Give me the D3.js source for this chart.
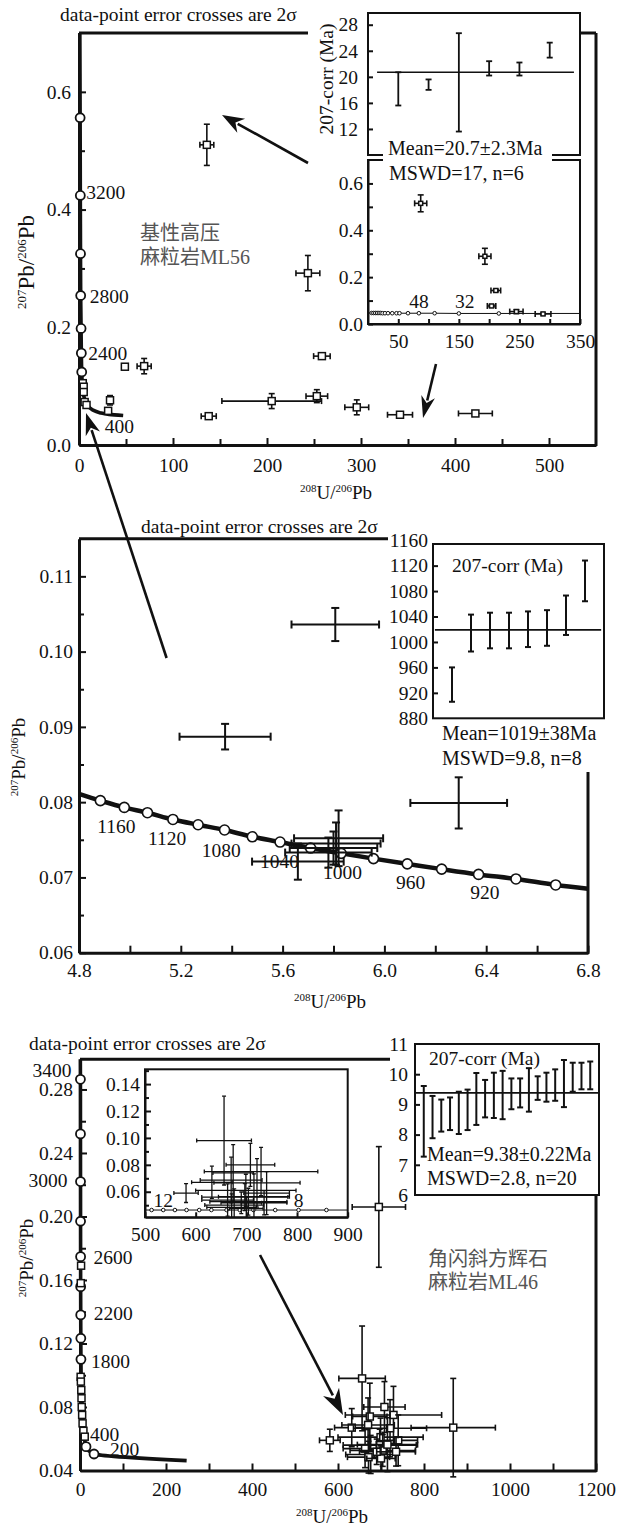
<!DOCTYPE html>
<html>
<head>
<meta charset="utf-8">
<script src="https://cdn.jsdelivr.net/npm/d3@7"></script>
<style>
  body { margin: 0; background: #fff; }
  svg { display: block; }
  svg text { font-family: "Liberation Serif", "Times New Roman", "Noto Sans CJK SC", serif; }
</style>
</head>
<body>
<script>
// ===== values =====

// upper panel, ML56 : [238U/206Pb, 207Pb/206Pb, err x, err y]
const ml56Spots = [
  [136, 0.510, 7.4, 0.035],
  [243.5, 0.292, 12.7, 0.030],
  [258.4, 0.151, 8.8, 0.005],
  [205, 0.0746, 53, 0.0127],
  [253, 0.083, 11.5, 0.011],
  [295.5, 0.064, 12.7, 0.0127],
  [138, 0.049, 8, 0.003],
  [341.5, 0.0514, 13.3, 0.003],
  [421.7, 0.0536, 18, 0.004],
  [48.8, 0.133, 3, 0.003],
  [69.3, 0.134, 7.5, 0.013],
  [33, 0.076, 3, 0.008],
  [31, 0.058, 2, 0.004]
];
const ml56AxisSpots = [[4, 0.105], [5, 0.099], [5, 0.090], [6, 0.073], [8, 0.068]];
const ml56Concordia = [[0.9, 0.70], [1.2, 0.556], [1.4, 0.424], [1.6, 0.325], [1.8, 0.254], [2.2, 0.198], [2.5, 0.156],
  [2.9, 0.124], [4, 0.095], [6, 0.078], [9, 0.068], [14, 0.060], [22, 0.055], [32, 0.052], [47, 0.050]];
const ml56Dots = [[1.2, 0.556], [1.4, 0.424], [1.6, 0.325], [1.8, 0.254], [2.2, 0.198], [2.5, 0.156], [2.9, 0.124]];
const ml56XTicks = [0, 100, 200, 300, 400, 500];
const ml56YTicks = [0, 0.2, 0.4, 0.6];

// ML56 weighted mean inset (207-corr, Ma)
const ml56Ages = [18.15, 18.8, 19.15, 21.3, 21.2, 24.1];
const ml56AgeErr = [2.55, 0.8, 7.55, 1.1, 1.0, 1.15];
const ml56Mean = 20.7;
const ml56AgeTicks = [12, 16, 20, 24, 28];

// ML56 enlarged inset
const ml56Zoom = [[87, 0.515, 10, 0.036], [193, 0.289, 10, 0.034], [211, 0.143, 8, 0.005],
  [204, 0.077, 7, 0.005], [245, 0.053, 11, 0.008], [289, 0.043, 13, 0.003]];
const ml56ZoomCurveX = [0, 6, 9, 12, 15, 18, 21, 24, 28, 33, 40, 47, 52, 66, 84, 110, 150, 216, 350];
const ml56ZoomCurveY = [0.047, 0.047, 0.047, 0.047, 0.047, 0.047, 0.047, 0.046, 0.046, 0.046, 0.046, 0.046,
  0.046, 0.046, 0.046, 0.046, 0.045, 0.045, 0.045];
const ml56ZoomXTicks = [50, 150, 250, 350];
const ml56ZoomYTicks = [0, 0.2, 0.4, 0.6];

// middle panel (enlarged ML56 concordant group)
const midCurveX = [4.8, 4.884, 4.978, 5.069, 5.169, 5.268, 5.372, 5.481, 5.590, 5.710, 5.830, 5.957, 6.090, 6.225, 6.370, 6.517, 6.673, 6.8];
const midCurveY = [0.0811, 0.0802, 0.0793, 0.0786, 0.0777, 0.0770, 0.0763, 0.0754, 0.0747, 0.0739, 0.0732, 0.0725, 0.0718, 0.0711, 0.0704, 0.0698, 0.0690, 0.0685];
const midCurveAges = [null, 1200, 1180, 1160, 1140, 1120, 1100, 1080, 1060, 1040, 1020, 1000, 980, 960, 940, 920, 900, null];
const midLabelAges = [1160, 1120, 1080, 1040, 1000, 960, 920];
const midSpots = [
  [5.807, 0.1036, 0.172, 0.0022],
  [5.374, 0.0887, 0.179, 0.0017],
  [6.292, 0.0799, 0.190, 0.0034],
  [5.82, 0.0752, 0.175, 0.0037],
  [5.81, 0.0745, 0.175, 0.0028],
  [5.80, 0.0739, 0.172, 0.0022],
  [5.78, 0.0733, 0.170, 0.0020],
  [5.66, 0.0721, 0.180, 0.0024]
];
const midXTicks = [4.8, 5.2, 5.6, 6.0, 6.4, 6.8];
const midYTicks = [0.06, 0.07, 0.08, 0.09, 0.10, 0.11];
const midAges = [933, 1014, 1018, 1018, 1020, 1022, 1042, 1096];
const midAgeErr = [27, 29, 28, 28, 28, 28, 31, 32];
const midMean = 1019;
const midAgeTicks = [880, 920, 960, 1000, 1040, 1080, 1120, 1160];

// lower panel, ML46
const ml46Concordia = [[0.8, 0.299], [1.0, 0.2864], [1.1, 0.252], [1.2, 0.222], [1.3, 0.197], [1.4, 0.1747],
  [1.5, 0.1558], [1.7, 0.138], [1.9, 0.1233], [2.2, 0.110], [3, 0.095], [5, 0.080], [8, 0.066],
  [14, 0.055], [32.6, 0.0504], [248, 0.0462]];
const ml46Dots = [[1.0, 0.2864], [1.1, 0.252], [1.2, 0.222], [1.3, 0.197], [1.4, 0.1747], [1.5, 0.1558],
  [1.7, 0.138], [1.9, 0.1233], [2.2, 0.110], [14, 0.055], [32.6, 0.0504]];
const ml46DotLabels = ["3400", "", "3000", "", "2600", "", "2200", "", "1800", "400", "200"];
const ml46AxisSpots = [[1.5, 0.099], [2, 0.096], [3, 0.0907], [3.5, 0.0855], [4, 0.080], [5, 0.075],
  [6, 0.0697], [8, 0.065], [11, 0.0613], [2.5, 0.169], [1.8, 0.158]];
const ml46Cluster = [
  [581, 0.059, 24, 0.007],
  [656, 0.098, 54, 0.033],
  [708, 0.080, 48, 0.016],
  [729, 0.075, 112, 0.018],
  [674, 0.074, 40, 0.021],
  [632, 0.067, 40, 0.012],
  [670, 0.0687, 61, 0.017],
  [721, 0.0666, 85, 0.018],
  [740, 0.059, 45, 0.016],
  [699, 0.061, 99, 0.012],
  [697, 0.056, 85, 0.010],
  [663, 0.0538, 51, 0.012],
  [704, 0.0526, 76, 0.010],
  [676, 0.0501, 58, 0.012],
  [671, 0.0484, 49, 0.010],
  [700, 0.0476, 33, 0.008],
  [690, 0.0518, 40, 0.008],
  [735, 0.0518, 45, 0.009],
  [715, 0.0563, 70, 0.017]
];
const ml46Outliers = [[695, 0.206, 62, 0.038], [868, 0.067, 98, 0.031]];
const ml46XTicks = [0, 200, 400, 600, 800, 1000, 1200];
const ml46YTicks = [0.04, 0.08, 0.12, 0.16, 0.20, 0.24, 0.28];
const ml46ZoomCurveX = [500, 513, 536, 559, 582, 607, 631, 661, 687, 714, 757, 803, 858, 900];
const ml46ZoomCurveY = [0.0464, 0.0464, 0.0464, 0.0464, 0.0464, 0.0464, 0.0464, 0.0464, 0.0464, 0.0464, 0.0464, 0.0464, 0.0464, 0.0464];
const ml46ZoomXTicks = [500, 600, 700, 800, 900];
const ml46ZoomYTicks = [0.06, 0.08, 0.10, 0.12, 0.14];
const ml46Ages = [8.44, 8.58, 8.63, 8.69, 8.72, 8.82, 9.18, 9.19, 9.30, 9.31, 9.35, 9.38, 9.48, 9.54, 9.57, 9.64, 9.69, 9.90, 9.94, 9.96];
const ml46AgeErr = [1.17, 0.70, 0.53, 0.54, 0.70, 0.67, 0.86, 0.62, 0.75, 0.80, 0.51, 0.48, 0.72, 0.39, 0.48, 0.52, 0.78, 0.48, 0.44, 0.46];
const ml46Mean = 9.38;
const ml46AgeTicks = [6, 7, 8, 9, 10, 11];

// ===== drawing =====
const INK = "#111";
const FS = 19.5;

const svg = d3.select("body").append("svg")
  .attr("width", 617).attr("height", 1534)
  .style("background", "#fff");
const defs = svg.append("defs");

// axis with inward ticks
function axis(g, scale, side, at, values, fmt, o = {}) {
  const mk = side === "bottom" ? d3.axisBottom : d3.axisLeft;
  const pos = side === "bottom" ? `translate(0,${at})` : `translate(${at},0)`;
  const a = g.append("g").attr("transform", pos)
    .call(mk(scale).tickValues(values).tickSizeInner(o.len === 0 ? 0 : -(o.len || 7))
      .tickSizeOuter(0).tickPadding(o.pad || 6).tickFormat(fmt));
  a.attr("font-family", null).attr("font-size", o.fs || FS);
  if (o.domain === false) a.select(".domain").remove();
  else a.select(".domain").attr("stroke", INK).attr("stroke-width", o.dw || 3);
  a.selectAll("line").attr("stroke", INK).attr("stroke-width", o.tw || 2);
  a.selectAll("text").attr("fill", INK);
  return a;
}
function minorTicks(g, scale, side, at, values, len, tw) {
  const mk = side === "bottom" ? d3.axisBottom : d3.axisLeft;
  const pos = side === "bottom" ? `translate(0,${at})` : `translate(${at},0)`;
  const a = g.append("g").attr("transform", pos)
    .call(mk(scale).tickValues(values).tickSize(-len).tickFormat(""));
  a.select(".domain").remove();
  a.selectAll("line").attr("stroke", INK).attr("stroke-width", tw || 2);
}
function line(g, x1, y1, x2, y2, w) {
  g.append("line").attr("x1", x1).attr("y1", y1).attr("x2", x2).attr("y2", y2)
    .attr("stroke", INK).attr("stroke-width", w || 3);
}
function text(g, x, y, str, o = {}) {
  return g.append("text").attr("x", x).attr("y", y).attr("font-size", o.fs || FS)
    .attr("text-anchor", o.anchor || "start").attr("fill", o.fill || INK).text(str);
}
function ratioLabel(g, x, y, s1, m1, s2, m2, o) {
  const t = g.append("text")
    .attr("transform", `translate(${x},${y})` + (o.rotate ? " rotate(-90)" : ""))
    .attr("text-anchor", "middle").attr("font-size", o.fs).attr("fill", INK);
  t.append("tspan").attr("font-size", o.sfs).attr("dy", -o.up).text(s1);
  t.append("tspan").attr("dy", o.up).text(m1 + "/");
  t.append("tspan").attr("font-size", o.sfs).attr("dy", -o.up).text(s2);
  t.append("tspan").attr("dy", o.up).text(m2);
}
function crosses(g, x, y, data, o) {
  const c = o.cap;
  const grp = g.append("g").attr("stroke", INK).attr("stroke-width", o.sw).attr("fill", "none");
  const item = grp.selectAll("g").data(data).join("g");
  item.append("line").attr("x1", d => x(d[0] - d[2])).attr("x2", d => x(d[0] + d[2]))
    .attr("y1", d => y(d[1])).attr("y2", d => y(d[1]));
  item.append("line").attr("x1", d => x(d[0])).attr("x2", d => x(d[0]))
    .attr("y1", d => y(d[1] - d[3])).attr("y2", d => y(d[1] + d[3]));
  [-1, 1].forEach(s => {
    item.append("line").attr("x1", d => x(d[0] + s * d[2])).attr("x2", d => x(d[0] + s * d[2]))
      .attr("y1", d => y(d[1]) - c).attr("y2", d => y(d[1]) + c);
    item.append("line").attr("y1", d => y(d[1] + s * d[3])).attr("y2", d => y(d[1] + s * d[3]))
      .attr("x1", d => x(d[0]) - c).attr("x2", d => x(d[0]) + c);
  });
  if (o.sq) {
    item.append("rect").attr("x", d => x(d[0]) - o.sq / 2).attr("y", d => y(d[1]) - o.sq / 2)
      .attr("width", o.sq).attr("height", o.sq).attr("fill", "#fff").attr("stroke-width", 1.5);
  }
}
function squares(g, x, y, data, size) {
  g.append("g").selectAll("rect").data(data).join("rect")
    .attr("x", d => x(d[0]) - size / 2).attr("y", d => y(d[1]) - size / 2)
    .attr("width", size).attr("height", size)
    .attr("fill", "#fff").attr("stroke", INK).attr("stroke-width", 1.5);
}
function dots(g, x, y, data, r, sw) {
  g.append("g").selectAll("circle").data(data).join("circle")
    .attr("cx", d => x(d[0])).attr("cy", d => y(d[1])).attr("r", r)
    .attr("fill", "#fff").attr("stroke", INK).attr("stroke-width", sw);
}
function curve(g, x, y, data, w) {
  g.append("path").attr("d", d3.line().x(d => x(d[0])).y(d => y(d[1])).curve(d3.curveMonotoneY)(data))
    .attr("fill", "none").attr("stroke", INK).attr("stroke-width", w).attr("stroke-linejoin", "round");
}
function ageBars(g, x, y, ages, errs, cap, sw) {
  const grp = g.append("g").attr("stroke", INK).attr("stroke-width", sw);
  const item = grp.selectAll("g").data(ages).join("g");
  item.append("line").attr("x1", (d, i) => x(i + 1)).attr("x2", (d, i) => x(i + 1))
    .attr("y1", (d, i) => y(d - errs[i])).attr("y2", (d, i) => y(d + errs[i]));
  [-1, 1].forEach(s => item.append("line")
    .attr("x1", (d, i) => x(i + 1) - cap).attr("x2", (d, i) => x(i + 1) + cap)
    .attr("y1", (d, i) => y(d + s * errs[i])).attr("y2", (d, i) => y(d + s * errs[i])));
}
function box(g, x0, y0, x1, y1, w) {
  g.append("rect").attr("x", x0).attr("y", y0).attr("width", x1 - x0).attr("height", y1 - y0)
    .attr("fill", "none").attr("stroke", INK).attr("stroke-width", w || 2);
}
function clip(id, x0, y0, x1, y1) {
  defs.append("clipPath").attr("id", id).append("rect")
    .attr("x", x0).attr("y", y0).attr("width", x1 - x0).attr("height", y1 - y0);
  return `url(#${id})`;
}
function arrow(x1, y1, x2, y2, hl, hw) {
  const a = Math.atan2(y2 - y1, x2 - x1), ca = Math.cos(a), sa = Math.sin(a);
  const bx = x2 - hl * ca, by = y2 - hl * sa;
  line(svg, x1, y1, bx + 4 * ca, by + 4 * sa, 2.6);
  const pts = [[x2, y2], [bx - hw / 2 * sa, by + hw / 2 * ca], [bx + 0.3 * hl * ca, by + 0.3 * hl * sa],
    [bx + hw / 2 * sa, by - hw / 2 * ca]];
  svg.append("polygon").attr("points", pts.map(p => p.join(",")).join(" ")).attr("fill", INK);
}

// ---------------- upper panel ----------------
{
  const g = svg.append("g");
  const x = d3.scaleLinear().domain([0, 550]).range([79, 596]);
  const y = d3.scaleLinear().domain([0, 0.7]).range([445, 33]);

  text(g, 60, 21, "data-point error crosses are 2σ");
  minorTicks(g, x, "bottom", 445, [50, 150, 250, 350, 450], 6);
  minorTicks(g, y, "left", 79, [0.1, 0.3, 0.5], 6);
  axis(g, x, "bottom", 445, ml56XTicks, d3.format("d"), { pad: 13 });
  axis(g, y, "left", 79, ml56YTicks, d3.format(".1f"), { pad: 8 });
  line(g, 79, 33, 308, 33);
  line(g, 580, 33, 596, 33);
  line(g, 596, 33, 596, 446);
  ratioLabel(g, 336, 499, "208", "U", "206", "Pb", { fs: 19, sfs: 11, up: 7 });
  ratioLabel(g, 34, 262, "207", "Pb", "206", "Pb", { fs: 23, sfs: 13, up: 8, rotate: true });

  curve(g, x, y, ml56Concordia, 3.6);
  dots(g, x, y, ml56Dots, 4.5, 1.8);
  const lab = [["3200", 1, 6, 4], ["2800", 3, 9, 7], ["2400", 5, 7, 7]];
  lab.forEach(([t, i, dx, dy]) => text(g, x(ml56Dots[i][0]) + dx, y(ml56Dots[i][1]) + dy, t));
  text(g, x(22) + 5, y(0.055) + 20, "400");

  crosses(g, x, y, ml56Spots, { cap: 3, sw: 1.6, sq: 7 });
  squares(g, x, y, ml56AxisSpots, 7);

  text(g, 140, 240, "基性高压", { fs: 20, fill: "#555" });
  text(g, 140, 264, "麻粒岩ML56", { fs: 20, fill: "#555" });

  // inset A : 207-corr ages
  const ax = d3.scaleLinear().domain([0, 7]).range([368, 580]);
  const ay = d3.scaleLinear().domain([8, 29.8]).range([155, 13]);
  g.append("rect").attr("x", 368).attr("y", 13).attr("width", 212).attr("height", 142).attr("fill", "#fff");
  axis(g, ay, "left", 368, ml56AgeTicks, d3.format("d"), { len: 5, pad: 10, domain: false });
  g.append("text").attr("transform", "translate(333,79) rotate(-90)")
    .attr("text-anchor", "middle").attr("font-size", FS).attr("fill", INK).text("207-corr (Ma)");
  line(g, ax(0.3), ay(ml56Mean), ax(6.8), ay(ml56Mean), 1.6);
  ageBars(g, ax, ay, ml56Ages, ml56AgeErr, 3, 1.8);
  box(g, 368, 13, 580, 155);

  // inset B : enlarged view
  const bx = d3.scaleLinear().domain([0, 350]).range([368, 580]);
  const by = d3.scaleLinear().domain([0, 0.7]).range([324, 160]);
  g.append("rect").attr("x", 368).attr("y", 160).attr("width", 212).attr("height", 164).attr("fill", "#fff");
  axis(g, bx, "bottom", 324, [50, 100, 150, 200, 250, 300, 350],
    d => ml56ZoomXTicks.includes(d) ? d : "", { len: 5, pad: 10, dw: 2 });
  axis(g, by, "left", 368, [0, 0.1, 0.2, 0.3, 0.4, 0.5, 0.6],
    d => ml56ZoomYTicks.some(v => Math.abs(v - d) < 1e-9) ? d.toFixed(1) : "", { len: 5, pad: 5, dw: 2 });
  const bcl = g.append("g").attr("clip-path", clip("clipB", 368, 160, 580, 324));
  const zc = ml56ZoomCurveX.map((v, i) => [v, ml56ZoomCurveY[i]]);
  bcl.append("path").attr("d", d3.line().x(d => bx(d[0])).y(d => by(d[1]))(zc))
    .attr("fill", "none").attr("stroke", INK).attr("stroke-width", 1);
  dots(bcl, bx, by, zc.slice(1, -1), 1.8, 1);
  text(bcl, bx(84), by(0.046) - 5, "48", { anchor: "middle" });
  text(bcl, bx(150) + 6, by(0.046) - 5, "32", { anchor: "middle" });
  crosses(bcl, bx, by, ml56Zoom, { cap: 3, sw: 1.6, sq: 4 });
  box(g, 368, 160, 580, 324);

  g.append("rect").attr("x", 383).attr("y", 138).attr("width", 169).attr("height", 46).attr("fill", "#fff");
  text(g, 388, 155, "Mean=20.7±2.3Ma", { fs: 20 });
  text(g, 389, 180, "MSWD=17, n=6", { fs: 20 });

  arrow(308, 163, 222, 115, 22, 16);
  arrow(436, 364, 423, 418, 22, 14);
}

// ---------------- middle panel ----------------
{
  const g = svg.append("g");
  const x = d3.scaleLinear().domain([4.8, 6.8]).range([79, 588]);
  const y = d3.scaleLinear().domain([0.06, 0.115]).range([952.7, 538.7]);

  text(g, 141, 533, "data-point error crosses are 2σ");
  minorTicks(g, x, "bottom", 952.7, [5.0, 5.4, 5.8, 6.2, 6.6], 7);
  minorTicks(g, y, "left", 79, [0.065, 0.075, 0.085, 0.095, 0.105], 5);
  axis(g, x, "bottom", 952.7, midXTicks, d3.format(".1f"), { pad: 10 });
  axis(g, y, "left", 79, midYTicks, d3.format(".2f"), { pad: 6 });
  line(g, 79, 538.7, 388, 538.7);
  line(g, 588, 772, 588, 954);
  ratioLabel(g, 330, 1008, "208", "U", "206", "Pb", { fs: 19, sfs: 11, up: 7 });
  ratioLabel(g, 25, 757, "207", "Pb", "206", "Pb", { fs: 19, sfs: 11, up: 7, rotate: true });

  const mc = midCurveX.map((v, i) => [v, midCurveY[i], midCurveAges[i]]);
  curve(g, x, y, mc, 4.5);
  const md = mc.filter(d => d[2] !== null);
  dots(g, x, y, md, 5, 1.6);
  md.filter(d => midLabelAges.includes(d[2])).forEach(d =>
    text(g, x(d[0]) - 31, y(d[1]) + 20, d[2], { anchor: "middle" }));
  crosses(g, x, y, midSpots, { cap: 4, sw: 2 });

  // inset : 207-corr ages
  const ix = d3.scaleLinear().domain([0, 9]).range([433, 604]);
  const iy = d3.scaleLinear().domain([880, 1154]).range([718.3, 544]);
  axis(g, iy, "left", 433, midAgeTicks, d3.format("d"), { len: 0, pad: 5, domain: false });
  minorTicks(g, iy, "left", 433, [920, 960, 1000, 1040, 1080, 1120], 5);
  text(g, 452, 572, "207-corr (Ma)");
  line(g, ix(0.1), iy(midMean), ix(8.85), iy(midMean), 1.6);
  ageBars(g, ix, iy, midAges, midAgeErr, 3, 2);
  box(g, 433, 544, 604, 718.3);
  text(g, 442, 740, "Mean=1019±38Ma", { fs: 20 });
  text(g, 442, 765, "MSWD=9.8, n=8", { fs: 20 });

  arrow(166.6, 658, 86, 413, 22, 15);
}

// ---------------- lower panel ----------------
{
  const g = svg.append("g");
  const x = d3.scaleLinear().domain([0, 1200]).range([80, 596]);
  const y = d3.scaleLinear().domain([0.04, 0.299]).range([1470.5, 1059.3]);

  text(g, 29, 1050, "data-point error crosses are 2σ");
  minorTicks(g, x, "bottom", 1470.5, [100, 300, 500, 700, 900, 1100], 7);
  minorTicks(g, y, "left", 80, [0.06, 0.10, 0.14, 0.18, 0.22, 0.26], 6);
  axis(g, x, "bottom", 1470.5, ml46XTicks, d3.format("d"), { pad: 12 });
  axis(g, y, "left", 80, ml46YTicks, d3.format(".2f"), { pad: 7 });
  line(g, 80, 1059.3, 390, 1059.3);
  line(g, 596, 1195, 596, 1472);
  ratioLabel(g, 332, 1523, "208", "U", "206", "Pb", { fs: 19, sfs: 11, up: 7 });
  ratioLabel(g, 33, 1258, "207", "Pb", "206", "Pb", { fs: 19, sfs: 11, up: 7, rotate: true });

  curve(g, x, y, ml46Concordia, 3.6);
  dots(g, x, y, ml46Dots, 4.5, 1.8);
  squares(g, x, y, ml46AxisSpots, 7);
  const off = { "3400": [-9, -2, "end"], "3000": [-13, 5, "end"], "2600": [13, 7, "start"], "2200": [13, 5, "start"],
    "1800": [10, 9, "start"], "400": [4, -6, "start"], "200": [16, 2, "start"] };
  ml46Dots.forEach((d, i) => {
    const t = ml46DotLabels[i];
    if (t) text(g, x(d[0]) + off[t][0], y(d[1]) + off[t][1], t, { anchor: off[t][2] });
  });
  crosses(g, x, y, ml46Cluster, { cap: 3, sw: 1.6, sq: 7 });
  crosses(g, x, y, ml46Outliers, { cap: 3, sw: 1.6, sq: 7 });

  text(g, 428, 1266, "角闪斜方辉石", { fs: 20, fill: "#555" });
  text(g, 428, 1289, "麻粒岩ML46", { fs: 20, fill: "#555" });

  // inset : enlarged cluster
  const sx = d3.scaleLinear().domain([500, 900]).range([145, 347.7]);
  const sy = d3.scaleLinear().domain([0.041, 0.151]).range([1217.3, 1069.3]);
  g.append("rect").attr("x", 145).attr("y", 1069.3).attr("width", 202.7).attr("height", 148).attr("fill", "#fff");
  axis(g, sx, "bottom", 1217.3, ml46ZoomXTicks, d3.format("d"), { len: 5, pad: 10, dw: 2 });
  minorTicks(g, sy, "left", 145, [0.05, 0.07, 0.09, 0.11, 0.13, 0.15], 4);
  axis(g, sy, "left", 145, ml46ZoomYTicks, d3.format(".2f"), { len: 6, pad: 5, dw: 2 });
  const scl = g.append("g").attr("clip-path", clip("clipS", 145, 1069.3, 347.7, 1217.3));
  const sc = ml46ZoomCurveX.map((v, i) => [v, ml46ZoomCurveY[i]]);
  scl.append("path").attr("d", d3.line().x(d => sx(d[0])).y(d => sy(d[1]))(sc))
    .attr("fill", "none").attr("stroke", INK).attr("stroke-width", 1);
  dots(scl, sx, sy, sc.slice(1, -1), 1.8, 1);
  text(scl, sx(536), sy(0.0464) - 3, "12", { anchor: "middle" });
  text(scl, sx(803), sy(0.0464) - 3, "8", { anchor: "middle" });
  crosses(scl, sx, sy, ml46Cluster, { cap: 2, sw: 1.3 });
  box(g, 145, 1069.3, 347.7, 1217.3);

  // inset : 207-corr ages
  const cx = d3.scaleLinear().domain([0, 21]).range([415, 599]);
  const cy = d3.scaleLinear().domain([6, 11]).range([1195, 1044]);
  g.append("rect").attr("x", 415).attr("y", 1044).attr("width", 184).attr("height", 151).attr("fill", "#fff");
  axis(g, cy, "left", 415, ml46AgeTicks, d3.format("d"), { len: 0, pad: 7, domain: false });
  minorTicks(g, cy, "left", 415, [7, 8, 9, 10], 5);
  line(g, 415, cy(ml46Mean), 599, cy(ml46Mean), 1.6);
  ageBars(g, cx, cy, ml46Ages, ml46AgeErr, 3, 2);
  text(g, 429, 1065, "207-corr (Ma)");
  text(g, 427, 1161, "Mean=9.38±0.22Ma", { fs: 20 });
  text(g, 427, 1185, "MSWD=2.8, n=20", { fs: 20 });
  box(g, 415, 1044, 599, 1195);

  arrow(260, 1255, 343, 1415, 26, 18);
}
</script>
</body>
</html>
